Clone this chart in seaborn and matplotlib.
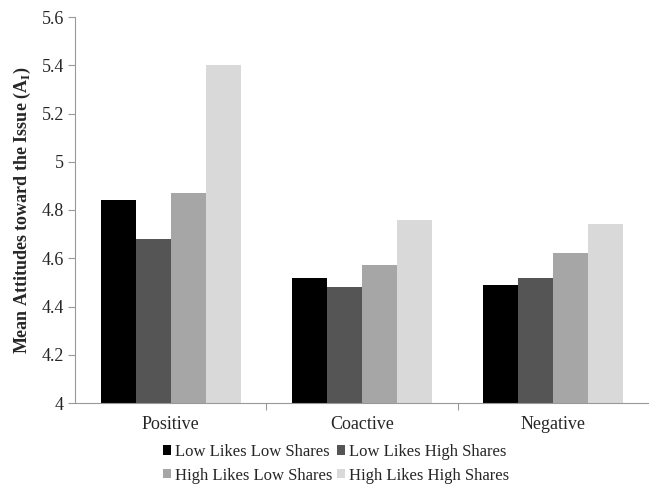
import matplotlib
matplotlib.use('Agg')
import matplotlib.pyplot as plt
import seaborn as sns
import pandas as pd

# data
categories = ['Positive', 'Coactive', 'Negative']
groups = ['Low Likes Low Shares', 'Low Likes High Shares',
          'High Likes Low Shares', 'High Likes High Shares']
low_likes_low_shares = [4.84, 4.52, 4.49]
low_likes_high_shares = [4.68, 4.48, 4.52]
high_likes_low_shares = [4.87, 4.57, 4.62]
high_likes_high_shares = [5.40, 4.76, 4.74]
colors = ['#000000', '#555555', '#a6a6a6', '#d9d9d9']
yticks = [4, 4.2, 4.4, 4.6, 4.8, 5, 5.2, 5.4, 5.6]
ytick_labels = ['4', '4.2', '4.4', '4.6', '4.8', '5', '5.2', '5.4', '5.6']

series = [low_likes_low_shares, low_likes_high_shares,
          high_likes_low_shares, high_likes_high_shares]
rows = []
for g, vals in zip(groups, series):
    for c, v in zip(categories, vals):
        rows.append({'cat': c, 'group': g, 'value': v})
df = pd.DataFrame(rows)

sns.set_style('white')
plt.rcParams['font.family'] = ['Liberation Serif', 'DejaVu Serif']

fig = plt.figure(figsize=(6.49, 4.87), dpi=100)
ax = fig.add_axes([75/649, 1 - 403/487, (649-75)/649, (403-17)/487])
sns.barplot(data=df, x='cat', y='value', hue='group', palette=colors,
            width=0.73, gap=0, saturation=1, ax=ax, errorbar=None,
            linewidth=0, edgecolor='none')
# bars rise from the bottom of the axis (4), not from 0
for p in ax.patches:
    h = p.get_height()
    if h > 0:
        p.set_y(4)
        p.set_height(h - 4)
ax.set_ylim(4, 5.6)
ax.set_yticks(yticks)
ax.set_yticklabels(ytick_labels)
ax.set_xlim(-0.5, 2.5)
ax.set_xticks([0.5, 1.5], minor=True)
ax.set_xlabel('')
ax.set_ylabel('Mean Attitudes toward the Issue (A$_\\mathregular{I}$)',
              fontsize=13, fontweight='bold', labelpad=6)
ax.tick_params(axis='y', left=True, length=5, width=0.8, color='#999999', labelsize=13, pad=3)
ax.tick_params(axis='x', which='major', bottom=False, labelsize=13, pad=6)
ax.tick_params(axis='x', which='minor', bottom=True, length=5, width=0.8, color='#999999')
for s in ['top', 'right']:
    ax.spines[s].set_visible(False)
ax.spines['left'].set_color('#999999')
ax.spines['bottom'].set_color('#999999')

# legend filled row by row like the original
handles, labels = ax.get_legend_handles_labels()
order = [0, 2, 1, 3]
ax.legend([handles[i] for i in order], [labels[i] for i in order],
          loc='upper center', bbox_to_anchor=(0.455, -0.085), ncol=2,
          frameon=False, fontsize=12, handlelength=0.5, handleheight=0.5,
          handletextpad=0.25, columnspacing=0.25, labelspacing=0.45,
          borderpad=0)
fig.savefig('out.png', dpi=100)
